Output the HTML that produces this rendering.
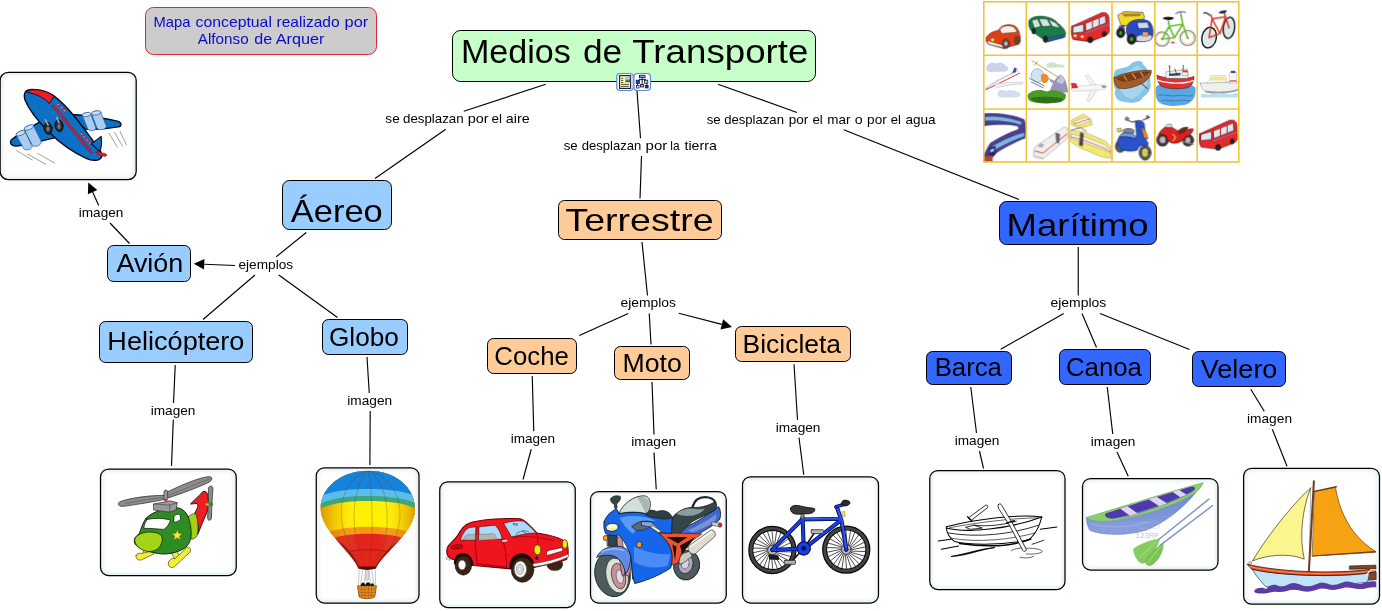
<!DOCTYPE html>
<html><head><meta charset="utf-8"><title>Medios de Transporte</title>
<style>html,body{margin:0;padding:0;background:#fff}svg{display:block}text{font-family:"Liberation Sans",sans-serif}</style></head>
<body>
<svg width="1382" height="611" viewBox="0 0 1382 611">
<defs><filter id="bl" x="-10%" y="-10%" width="120%" height="120%"><feGaussianBlur stdDeviation="1.6"/></filter></defs>
<rect width="1382" height="611" fill="#fff"/>
<g stroke="#000" stroke-width="1.15" fill="none" stroke-linecap="butt">
<line x1="545.75" y1="84.25" x2="463.75" y2="111.25"/>
<line x1="445.75" y1="129.25" x2="375" y2="178.5"/>
<line x1="637" y1="91" x2="640.5" y2="138.25"/>
<line x1="641.5" y1="156" x2="640" y2="198.5"/>
<line x1="718" y1="84.25" x2="797" y2="112.5"/>
<line x1="843.75" y1="129.75" x2="1019" y2="199.5"/>
<line x1="306.25" y1="232.5" x2="276.25" y2="256.75"/>
<line x1="235" y1="265.5" x2="204.24" y2="264.20"/>
<polygon points="193.75,263.75 204.46,259.00 204.02,269.39" fill="#000" stroke="none"/>
<line x1="255" y1="275" x2="203" y2="319.5"/>
<line x1="278.75" y1="275" x2="337.5" y2="317.5"/>
<line x1="129.5" y1="243.5" x2="110" y2="223"/>
<line x1="98.75" y1="205.5" x2="92.61" y2="192.05"/>
<polygon points="88.25,182.5 97.34,189.89 87.88,194.21" fill="#000" stroke="none"/>
<line x1="175.25" y1="365" x2="173.5" y2="403"/>
<line x1="173.3" y1="419.7" x2="171.5" y2="466"/>
<line x1="367" y1="357" x2="369.25" y2="393"/>
<line x1="370.2" y1="411" x2="369.9" y2="465"/>
<line x1="642" y1="242" x2="647.5" y2="295.5"/>
<line x1="628.25" y1="313.5" x2="579.25" y2="335.5"/>
<line x1="649.25" y1="313.5" x2="651" y2="344.5"/>
<line x1="678.75" y1="313.25" x2="721.83" y2="324.37"/>
<polygon points="732,327 720.53,329.41 723.13,319.34" fill="#000" stroke="none"/>
<line x1="532.25" y1="376" x2="533.75" y2="431.25"/>
<line x1="531.25" y1="449.25" x2="523" y2="479.5"/>
<line x1="652" y1="382" x2="654" y2="434.5"/>
<line x1="654" y1="452.5" x2="656.25" y2="489.25"/>
<line x1="794" y1="364.25" x2="797.5" y2="420"/>
<line x1="799" y1="437.5" x2="803.75" y2="474.7"/>
<line x1="1078.25" y1="247" x2="1078.25" y2="295.5"/>
<line x1="1063.75" y1="313.5" x2="1000.75" y2="349.25"/>
<line x1="1082" y1="313.5" x2="1096.5" y2="347.5"/>
<line x1="1100" y1="313.5" x2="1189.5" y2="349.5"/>
<line x1="970.75" y1="387" x2="976.5" y2="433"/>
<line x1="979.5" y1="451" x2="983.5" y2="468.5"/>
<line x1="1107.25" y1="387" x2="1112.75" y2="434"/>
<line x1="1117" y1="452" x2="1128.25" y2="476.25"/>
<line x1="1250.75" y1="389.25" x2="1264.25" y2="411.25"/>
<line x1="1272.3" y1="429.2" x2="1287" y2="466.3"/>
</g>
<rect x="145.5" y="7.5" width="231.0" height="47.0" rx="8" ry="8" fill="#cccccc" stroke="#e0282e" stroke-width="1"/>
<rect x="452.5" y="30.5" width="363.0" height="51.0" rx="8" ry="8" fill="#c6ffc8" stroke="#000" stroke-width="1"/>
<rect x="282.5" y="180.5" width="109.0" height="49.0" rx="7" ry="7" fill="#99ccff" stroke="#000" stroke-width="1"/>
<rect x="107.5" y="245.5" width="83.0" height="36.0" rx="6" ry="6" fill="#99ccff" stroke="#000" stroke-width="1"/>
<rect x="99.5" y="321.5" width="153.0" height="41.0" rx="6" ry="6" fill="#99ccff" stroke="#000" stroke-width="1"/>
<rect x="322.5" y="319.5" width="85.0" height="35.0" rx="6" ry="6" fill="#99ccff" stroke="#000" stroke-width="1"/>
<rect x="558.5" y="200.5" width="163.0" height="39.0" rx="6" ry="6" fill="#ffcc99" stroke="#000" stroke-width="1"/>
<rect x="487.5" y="338.5" width="89.0" height="35.0" rx="6" ry="6" fill="#ffcc99" stroke="#000" stroke-width="1"/>
<rect x="614.5" y="346.5" width="75.0" height="33.0" rx="6" ry="6" fill="#ffcc99" stroke="#000" stroke-width="1"/>
<rect x="735.5" y="326.5" width="115.0" height="35.0" rx="6" ry="6" fill="#ffcc99" stroke="#000" stroke-width="1"/>
<rect x="999.5" y="201.5" width="157.0" height="43.0" rx="7" ry="7" fill="#3366ff" stroke="#000" stroke-width="1"/>
<rect x="926.5" y="351.5" width="85.0" height="33.0" rx="6" ry="6" fill="#3366ff" stroke="#000" stroke-width="1"/>
<rect x="1059.5" y="349.5" width="91.0" height="35.0" rx="6" ry="6" fill="#3366ff" stroke="#000" stroke-width="1"/>
<rect x="1192.5" y="351.5" width="93.0" height="35.0" rx="6" ry="6" fill="#3366ff" stroke="#000" stroke-width="1"/>
<clipPath id="c_plane"><rect x="0.65" y="72.90" width="135.05" height="106.20" rx="7" ry="7"/></clipPath>
<rect x="0.15" y="72.40" width="136.05" height="107.20" rx="8" ry="8" fill="#e6f1f5"/>
<rect x="3.15" y="75.40" width="130.05" height="101.20" rx="5" ry="5" fill="#fff" filter="url(#bl)"/>
<g clip-path="url(#c_plane)"><g transform="translate(0,70) scale(0.18325)" stroke-linejoin="round" stroke-linecap="round">
<g stroke="#6a6a6a" stroke-width="3.5" fill="none">
<path d="M595,345 L640,420 M625,340 L668,415 M655,335 L690,408"/>
<path d="M90,440 L175,490 M150,458 L250,515 M205,455 L298,508"/>
</g>
<!-- left wing -->
<path d="M218,283 C170,310 100,350 66,378 C48,395 60,416 86,415 C150,410 240,385 305,368 Z" fill="#0c70c4" stroke="#0a0a20" stroke-width="7"/>
<!-- right wing -->
<path d="M372,243 C450,240 560,262 640,279 C666,286 666,306 645,311 C580,323 520,327 468,323 Z" fill="#0c70c4" stroke="#0a0a20" stroke-width="7"/>
<!-- fuselage -->
<path d="M140,118 C150,100 232,100 292,140 C340,175 380,220 420,270 C462,322 505,385 548,440 L556,470 C545,500 500,497 470,482 C400,450 320,392 268,340 C210,282 160,222 136,162 C130,142 133,128 140,118 Z" fill="#0c70c4" stroke="#0a0a20" stroke-width="8"/>
<!-- tail fin -->
<path d="M497,402 C520,388 540,372 552,362 C557,392 553,420 546,446 Z" fill="#0c70c4" stroke="#0a0a20" stroke-width="6"/>
<!-- red tail tip -->
<path d="M524,446 L574,456 C588,462 582,474 568,471 L534,462 Z" fill="#ee1c24" stroke="#7a0a10" stroke-width="3"/>
<!-- nose red -->
<path d="M146,114 C190,98 252,110 294,143 L270,184 C240,152 200,131 150,122 Z" fill="#ee1c24" stroke="#0a0a20" stroke-width="5"/>
<!-- red stripe -->
<path d="M283,196 L292,190 C360,270 440,370 505,450 L496,455 C430,375 350,275 283,196 Z" fill="#ee1c24" stroke="#5a1030" stroke-width="3"/>
<!-- windows -->
<g fill="#f06a8a" stroke="#c0102a" stroke-width="3">
<rect x="311" y="182" width="13" height="13" rx="3" transform="rotate(40 317 188)"/>
<rect x="329" y="198" width="13" height="13" rx="3" transform="rotate(40 335 204)"/>
<rect x="346" y="215" width="13" height="13" rx="3" transform="rotate(40 352 221)"/>
<rect x="439" y="343" width="12" height="12" rx="3" transform="rotate(45 445 349)"/>
<rect x="454" y="359" width="12" height="12" rx="3" transform="rotate(45 460 365)"/>
<rect x="469" y="376" width="12" height="12" rx="3" transform="rotate(45 475 382)"/>
<rect x="484" y="393" width="12" height="12" rx="3" transform="rotate(45 490 399)"/>
</g>
<!-- wheels -->
<g>
<ellipse cx="262" cy="318" rx="22" ry="33" fill="#2a2a2a" stroke="#000" stroke-width="4" transform="rotate(-8 262 318)"/>
<ellipse cx="322" cy="304" rx="22" ry="33" fill="#2a2a2a" stroke="#000" stroke-width="4" transform="rotate(-8 322 304)"/>
<ellipse cx="262" cy="322" rx="9" ry="14" fill="#777" />
<ellipse cx="322" cy="308" rx="9" ry="14" fill="#777" />
<path d="M248,272 L262,300 M310,260 L322,288" stroke="#9ab" stroke-width="9"/>
</g>
<!-- engines right -->
<g stroke="#2b5f9e" stroke-width="4">
<path d="M450,248 C448,232 490,228 496,242 L524,318 C518,334 488,336 480,324 Z" fill="#a9cdf0"/>
<ellipse cx="473" cy="243" rx="24" ry="11" fill="#c9e0f7" transform="rotate(-8 473 243)"/>
<path d="M500,240 C498,222 545,218 550,232 L580,305 C578,328 540,332 530,318 Z" fill="#a9cdf0"/>
<ellipse cx="525" cy="234" rx="26" ry="11" fill="#c9e0f7" transform="rotate(-8 525 234)"/>
</g>
<!-- engines left -->
<g stroke="#2b5f9e" stroke-width="4">
<path d="M132,322 C140,300 178,296 186,312 L226,392 C222,416 188,424 176,410 Z" fill="#a9cdf0"/>
<ellipse cx="158" cy="314" rx="28" ry="12" fill="#c9e0f7" transform="rotate(-22 158 314)"/>
<path d="M88,352 C94,332 132,328 140,342 L176,418 C170,438 140,442 130,430 Z" fill="#a9cdf0"/>
<ellipse cx="113" cy="345" rx="27" ry="12" fill="#c9e0f7" transform="rotate(-22 113 345)"/>
</g>
</g>
</g>
<rect x="0.15" y="72.40" width="136.05" height="107.20" rx="8" ry="8" fill="none" stroke="#000" stroke-width="1.25"/>
<clipPath id="c_heli"><rect x="101.00" y="469.50" width="134.75" height="105.50" rx="7" ry="7"/></clipPath>
<rect x="100.50" y="469.00" width="135.75" height="106.50" rx="8" ry="8" fill="#e6f1f5"/>
<rect x="103.50" y="472.00" width="129.75" height="100.50" rx="5" ry="5" fill="#fff" filter="url(#bl)"/>
<g clip-path="url(#c_heli)"><g transform="translate(98,466) scale(0.18325)" stroke-linejoin="round" stroke-linecap="round" stroke="#101810" stroke-width="5">
<!-- skids -->
<g fill="#f4ee3a" stroke="#55551a" stroke-width="4">
<path d="M255,455 L240,480 L262,486 L285,462 Z"/>
<path d="M208,488 C204,505 218,518 238,512 L305,480 L294,464 L238,478 C224,472 211,477 208,488 Z"/>
<path d="M398,468 L418,508 L444,498 L432,462 Z"/>
<path d="M384,528 C380,548 396,560 416,551 L502,470 C512,454 500,438 484,446 L420,506 C404,500 388,512 384,528 Z"/>
</g>
<!-- tail red -->
<path d="M528,258 C540,232 552,218 540,204 L505,208 C518,190 548,168 572,140 C592,134 602,150 601,172 C606,202 604,232 590,264 C575,300 558,335 545,372 C548,330 545,292 528,258 Z" fill="#ee1c24"/>
<!-- body -->
<path d="M262,285 C300,245 400,215 450,232 C490,250 505,300 510,350 C512,400 495,435 470,450 C430,475 370,485 330,478 C280,470 230,455 205,430 C190,410 200,385 225,370 C235,340 245,310 262,285 Z" fill="#2f8c22"/>
<!-- light stripe -->
<path d="M493,277 C508,262 524,257 535,262 C546,300 549,340 541,380 C532,396 516,402 508,399 C513,352 506,312 493,277 Z" fill="#a4d416" stroke-width="3"/>
<!-- nose -->
<path d="M200,398 C214,366 270,352 320,365 C352,373 356,396 346,422 C336,456 300,470 270,466 C234,460 198,436 200,398 Z" fill="#a4d416" stroke-width="4"/>
<!-- windshield -->
<path d="M268,292 C310,282 360,285 396,295 C386,320 376,336 360,346 C320,343 280,340 250,340 C252,322 258,305 268,292 Z" fill="#fff" stroke-width="4"/>
<path d="M415,276 C425,262 440,259 448,268 L451,290 C440,301 425,309 415,306 Z" fill="#fff" stroke-width="4"/>
<!-- star -->
<polygon points="432,345 440,367 463,368 445,382 451,405 432,392 413,405 419,382 401,368 424,367" fill="#f4ee3a" stroke="#55551a" stroke-width="3"/>
<!-- housing -->
<path d="M305,207 L395,190 L432,200 L426,240 L390,252 L305,240 Z" fill="#9a9a9a" stroke="#333" stroke-width="4"/>
<path d="M305,207 L392,214 L432,200 M392,214 L390,252" fill="none" stroke="#333" stroke-width="3"/>
<!-- blades -->
<path d="M362,160 C280,160 170,175 120,195 C100,206 114,223 140,220 C200,212 300,196 366,182 Z" fill="#8c8c8c" stroke="#2a2a2a" stroke-width="4"/>
<path d="M378,142 C450,105 560,60 605,58 C630,58 626,80 600,91 C540,120 450,152 384,174 Z" fill="#8c8c8c" stroke="#2a2a2a" stroke-width="4"/>
<path d="M150,205 C230,188 300,178 360,172 M390,160 C460,130 540,95 610,70" fill="none" stroke="#555" stroke-width="3"/>
<rect x="360" y="133" width="20" height="52" rx="8" fill="#9a9a9a" stroke="#333" stroke-width="4"/>
<rect x="362" y="180" width="16" height="12" fill="#d22" stroke="none"/>
<!-- tail rotor -->
<path d="M604,116 C613,104 629,109 627,126 L622,200 L619,286 C613,301 598,298 598,284 L602,200 Z" fill="#8c8c8c" stroke="#2a2a2a" stroke-width="4"/>
<path d="M580,205 L626,203 L626,216 L580,216 Z" fill="#e8c020" stroke="none"/>
<circle cx="616" cy="209" r="9" fill="#22a022" stroke="#153" stroke-width="3"/>
<rect x="580" y="204" width="10" height="12" fill="#d22" stroke="none"/>
</g>
</g>
<rect x="100.50" y="469.00" width="135.75" height="106.50" rx="8" ry="8" fill="none" stroke="#000" stroke-width="1.25"/>
<clipPath id="c_globo"><rect x="316.75" y="468.25" width="101.75" height="134.25" rx="7" ry="7"/></clipPath>
<rect x="316.25" y="467.75" width="102.75" height="135.25" rx="8" ry="8" fill="#e6f1f5"/>
<rect x="319.25" y="470.75" width="96.75" height="129.25" rx="5" ry="5" fill="#fff" filter="url(#bl)"/>
<g clip-path="url(#c_globo)"><g transform="translate(313,465) scale(0.2307)">
<defs>
<clipPath id="env"><path d="M240,25 C120,25 35,100 33,185 C32,260 110,330 150,380 C175,410 190,430 197,450 L272,450 C280,430 300,405 330,375 C375,325 445,260 442,185 C440,100 360,25 240,25 Z"/></clipPath>
<linearGradient id="envsh" x1="0" x2="1" y1="0" y2="0">
<stop offset="0" stop-color="#b04000" stop-opacity="0.55"/><stop offset="0.22" stop-color="#d06000" stop-opacity="0.18"/><stop offset="0.4" stop-color="#fff" stop-opacity="0"/><stop offset="0.62" stop-color="#fff" stop-opacity="0"/><stop offset="0.82" stop-color="#d06000" stop-opacity="0.2"/><stop offset="1" stop-color="#b04000" stop-opacity="0.55"/>
</linearGradient>
</defs>
<g clip-path="url(#env)">
<rect x="20" y="10" width="440" height="450" fill="#e3251c"/>
<path d="M20,10 H460 V345 C400,308 320,298 240,298 C160,298 80,308 20,345 Z" fill="#f49a12"/>
<path d="M20,10 H460 V308 C400,278 320,268 240,268 C160,268 80,278 20,308 Z" fill="#fff000"/>
<rect x="20" y="10" width="440" height="450" fill="url(#envsh)"/>
<path d="M20,10 H460 V194 C400,164 320,156 240,156 C160,156 80,164 20,194 Z" fill="#3fa57c"/>
<path d="M20,10 H460 V172 C400,142 320,134 240,134 C160,134 80,142 20,172 Z" fill="#5bbdec"/>
<path d="M20,10 H460 V140 C400,112 320,104 240,104 C160,104 80,112 20,140 Z" fill="#1583dc"/>
<path d="M85,318 C150,345 185,400 205,450 L150,450 L50,320 Z" fill="#8e1a14" opacity="0.9"/>
<path d="M395,318 C335,345 290,400 266,450 L330,450 L430,320 Z" fill="#8e1a14" opacity="0.9"/>
<path d="M165,375 C200,365 280,365 318,375" stroke="#a01c14" stroke-width="4" fill="none"/>
<g fill="none" stroke="#7a3a00" stroke-opacity="0.45" stroke-width="3">
<path d="M240,25 C130,60 90,200 150,330 C175,385 200,420 215,450"/>
<path d="M240,25 C190,60 160,200 190,330 C205,385 220,420 228,450"/>
<path d="M240,25 C250,60 260,200 255,330 C250,385 245,420 240,450"/>
<path d="M240,25 C310,60 340,200 310,330 C295,385 265,420 252,450"/>
<path d="M240,25 C370,60 410,200 350,330 C320,385 280,420 262,450"/>
</g>
</g>
<path d="M197,448 C215,458 255,458 272,448 L270,440 L199,440 Z" fill="#5a0c0c"/>
<g stroke="#9a9a9a" stroke-width="2.5" fill="none">
<path d="M200,455 L197,528 M270,455 L272,528 M215,458 L205,528 M255,458 L265,528 M228,458 L222,520 M243,458 L250,520"/>
</g>
<path d="M228,458 L242,458 L240,500 L230,500 Z" fill="#ddd" stroke="#999" stroke-width="2"/>
<path d="M205,527 C210,505 222,505 226,520 C232,505 246,505 250,520 C254,508 264,510 266,527 Z" fill="#111"/>
<path d="M193,524 L275,524 L268,572 C250,582 218,582 200,572 Z" fill="#e58e22" stroke="#6a3806" stroke-width="3"/>
<path d="M196,538 H272 M198,552 H270 M200,565 H268 M210,526 L213,575 M225,526 L226,578 M240,526 L240,578 M255,526 L253,576" stroke="#8a4a0a" stroke-width="2" fill="none"/>
</g>
</g>
<rect x="316.25" y="467.75" width="102.75" height="135.25" rx="8" ry="8" fill="none" stroke="#000" stroke-width="1.25"/>
<clipPath id="c_coche"><rect x="440.25" y="482.25" width="134.50" height="124.75" rx="7" ry="7"/></clipPath>
<rect x="439.75" y="481.75" width="135.50" height="125.75" rx="8" ry="8" fill="#e6f1f5"/>
<rect x="442.75" y="484.75" width="129.50" height="119.75" rx="5" ry="5" fill="#fff" filter="url(#bl)"/>
<g clip-path="url(#c_coche)"><g transform="translate(437,479) scale(0.21604)" stroke-linejoin="round" stroke-linecap="round">
<!-- far wheels -->
<ellipse cx="545" cy="395" rx="38" ry="30" fill="#3a2412"/>
<!-- body -->
<path d="M48,318 C55,300 80,285 95,262 C110,235 125,210 160,200 C220,186 320,180 385,184 C410,190 440,225 462,250 C500,255 560,268 598,290 C606,305 608,335 606,352 L600,372 C560,385 500,398 450,410 L330,415 L170,400 L60,368 C45,355 43,335 48,318 Z" fill="#f0141e" stroke="#6a0008" stroke-width="5"/>
<!-- wheel arches -->
<path d="M78,395 C75,350 110,335 135,345 C160,355 170,385 168,402 Z" fill="#1a0a05"/>
<path d="M335,418 C330,365 365,340 400,345 C440,352 455,390 452,412 Z" fill="#1a0a05"/>
<!-- wheels -->
<ellipse cx="122" cy="400" rx="38" ry="45" fill="#3a2412" stroke="#1a0a05" stroke-width="3"/>
<ellipse cx="116" cy="398" rx="17" ry="22" fill="#fff" stroke="#777" stroke-width="3"/>
<ellipse cx="396" cy="420" rx="52" ry="58" fill="#3a2412" stroke="#1a0a05" stroke-width="3"/>
<ellipse cx="386" cy="418" rx="29" ry="38" fill="#fff" stroke="#666" stroke-width="4"/>
<ellipse cx="384" cy="418" rx="17" ry="24" fill="#ddd" stroke="#888" stroke-width="3"/>
<ellipse cx="383" cy="418" rx="7" ry="10" fill="#fff" stroke="#999" stroke-width="2"/>
<!-- windows -->
<path d="M108,282 C118,252 134,232 150,225 L181,221 L181,281 Z" fill="#a9dafa" stroke="#6a0008" stroke-width="3"/>
<path d="M195,221 L270,214 C286,230 297,255 302,278 L195,283 Z" fill="#a9dafa" stroke="#6a0008" stroke-width="3"/>
<path d="M308,205 C340,195 380,191 402,196 C422,210 446,235 459,250 C420,250 380,258 345,269 C335,250 320,225 308,205 Z" fill="#a9dafa" stroke="#6a0008" stroke-width="3"/>
<path d="M122,280 C126,266 134,260 142,258 L181,257 L181,281 Z" fill="#b4b4b4" stroke="#666" stroke-width="2"/>
<path d="M195,257 L262,253 C270,256 274,266 275,279 L195,283 Z" fill="#b4b4b4" stroke="#666" stroke-width="2"/>
<path d="M365,255 C385,240 405,235 425,245 M395,240 L415,252 M355,205 L372,208 L372,214 L355,212 Z" fill="none" stroke="#444" stroke-width="3"/>
<!-- door lines -->
<path d="M181,221 L176,300 L186,392 M302,278 C318,320 322,370 322,408 M186,392 L322,408 M176,300 L181,295" fill="none" stroke="#6a0008" stroke-width="3"/>
<path d="M300,283 L325,280 L326,290 L302,292 Z" fill="#fff" stroke="#6a0008" stroke-width="2"/>
<path d="M345,270 C400,262 470,268 540,285 M462,250 L470,330" fill="none" stroke="#6a0008" stroke-width="2.5"/>
<!-- rear light -->
<path d="M66,312 C68,304 110,302 118,306 C120,315 116,322 110,322 L72,324 Z" fill="#c00814" stroke="#6a0008" stroke-width="3"/>
<path d="M44,362 L58,366 L58,376 L44,372 Z" fill="#fff" stroke="#555" stroke-width="2"/>
<!-- grille & bumper -->
<path d="M506,345 C505,335 512,332 520,330 L575,318 C584,318 584,330 578,334 L518,352 C510,354 506,352 506,345 Z" fill="#fff" stroke="#6a0008" stroke-width="3"/>
<path d="M444,392 C500,386 560,368 608,348 L610,360 C560,384 500,400 448,406 Z" fill="#fff" stroke="#555" stroke-width="3"/>
<ellipse cx="465" cy="328" rx="16" ry="23" fill="#f2e616" stroke="#5a4a00" stroke-width="4"/>
<ellipse cx="592" cy="301" rx="12" ry="20" fill="#f2e616" stroke="#5a4a00" stroke-width="4"/>
<ellipse cx="462" cy="366" rx="7" ry="9" fill="#1a0a05"/>
</g>
</g>
<rect x="439.75" y="481.75" width="135.50" height="125.75" rx="8" ry="8" fill="none" stroke="#000" stroke-width="1.25"/>
<clipPath id="c_moto"><rect x="591.00" y="492.00" width="134.75" height="110.50" rx="7" ry="7"/></clipPath>
<rect x="590.50" y="491.50" width="135.75" height="111.50" rx="8" ry="8" fill="#e6f1f5"/>
<rect x="593.50" y="494.50" width="129.75" height="105.50" rx="5" ry="5" fill="#fff" filter="url(#bl)"/>
<g clip-path="url(#c_moto)"><g transform="translate(588,489) scale(0.19152)" stroke-linejoin="round" stroke-linecap="round" stroke="#0c1418" stroke-width="4">
<!-- rear wheel -->
<ellipse cx="515" cy="398" rx="68" ry="78" fill="#4c5c5e" transform="rotate(12 515 398)"/>
<ellipse cx="510" cy="392" rx="38" ry="50" fill="#b3a6c6" stroke-width="3" transform="rotate(12 510 392)"/>
<ellipse cx="508" cy="390" rx="20" ry="28" fill="#d8d4dc" stroke-width="2" transform="rotate(12 508 390)"/>
<!-- tail fairing -->
<path d="M470,215 C540,190 620,140 682,92 C694,110 696,140 686,162 C650,195 600,225 560,240 L470,245 Z" fill="#4068cc"/>
<path d="M520,215 C570,195 630,160 670,130 C672,150 665,165 655,175 C620,198 580,215 545,226 Z" fill="#7a90d0" stroke="none"/>
<!-- seat -->
<path d="M438,150 C470,110 520,92 560,96 C600,98 640,80 664,66 C676,80 674,100 660,112 C620,135 580,150 545,170 C520,190 500,215 470,240 L432,232 Z" fill="#34464a"/>
<path d="M462,128 C490,104 530,98 560,104 C580,108 600,104 610,100 C600,120 570,135 540,140 C510,142 485,140 462,128 Z" fill="#8c9c9c" stroke="none"/>
<!-- grab rail -->
<path d="M545,95 C555,60 580,42 610,42 C640,42 660,55 664,70" fill="none" stroke="#1c2a2c" stroke-width="12"/>
<!-- tail light -->
<path d="M648,172 L690,178 L688,198 L648,190 Z" fill="#c8c8c8" stroke-width="2"/>
<ellipse cx="690" cy="188" rx="9" ry="12" fill="#e02424" stroke-width="2"/>
<!-- exhaust -->
<path d="M478,392 C470,370 480,345 500,335 L530,325 L545,350 L500,385 Z" fill="#c8c8b8" stroke-width="3"/>
<path d="M522,300 L640,215 C660,212 670,232 662,248 L560,338 C540,345 518,325 522,300 Z" fill="#dcdccc" stroke-width="3"/>
<path d="M535,300 L645,222" stroke="#fff" stroke-width="8" fill="none" stroke-opacity="0.8"/>
<!-- red frame -->
<path d="M366,228 L595,234 C560,262 520,285 500,300 C488,335 478,365 470,385 L428,402 C452,335 432,282 366,228 Z" fill="#f0522e" stroke="#3a0c04" stroke-width="3"/>
<path d="M410,250 L520,250 L470,285 Z M440,290 L462,300 L455,372 Z M480,296 L560,250 L492,340 Z" fill="#1a0e0c" stroke="none"/>
<!-- front wheel -->
<ellipse cx="128" cy="445" rx="92" ry="118" fill="#4c5c5e" transform="rotate(-12 128 445)"/>
<ellipse cx="152" cy="452" rx="58" ry="92" fill="#dce0d6" stroke-width="3" transform="rotate(-12 152 452)"/>
<ellipse cx="160" cy="455" rx="36" ry="68" fill="#c8929c" stroke-width="3" transform="rotate(-12 160 455)"/>
<ellipse cx="166" cy="458" rx="18" ry="36" fill="#e6d8dc" stroke-width="2" transform="rotate(-12 166 458)"/>
<!-- engine dark -->
<path d="M225,330 L300,350 L285,440 L235,470 Z" fill="#26343a"/>
<!-- forks -->
<path d="M148,250 L176,250 L205,440 L180,450 Z" fill="#c4949c" stroke-width="3"/>
<path d="M100,240 L152,244 L152,304 L102,298 Z" fill="#34424a" stroke-width="3"/>
<path d="M210,335 L238,345 L215,455 L192,450 Z" fill="#c4949c" stroke-width="3"/>
<!-- front fender -->
<path d="M46,356 C62,316 112,292 168,300 C204,306 222,330 224,356 C222,394 210,426 196,446 C190,404 172,368 140,352 C108,340 74,346 46,356 Z" fill="#5f8ae6"/>
<path d="M70,330 C100,312 150,308 185,320" stroke="#9ab8f4" stroke-width="8" fill="none"/>
<!-- main fairing -->
<path d="M84,172 C95,140 120,115 150,105 L165,130 C210,118 260,118 300,128 C340,120 400,125 440,150 L436,232 L366,228 C432,282 452,335 432,412 C388,444 308,478 244,494 C225,440 232,390 222,345 C212,315 190,270 162,240 C135,246 108,242 92,232 C84,215 80,195 84,172 Z" fill="#1666ec"/>
<path d="M165,150 C220,135 300,140 350,165 C300,175 260,200 235,235 C215,220 185,190 165,150 Z" fill="#5a9af8" stroke="none"/>
<path d="M240,300 C300,330 380,345 430,340 C425,370 420,390 415,400 C350,420 290,410 240,380 Z" fill="#4a8cf6" stroke="none"/>
<path d="M230,195 C260,165 310,160 340,175 C330,200 300,215 270,218 C250,218 236,210 230,195 Z" fill="#56687a" stroke-width="3"/>
<!-- handlebar/dark -->
<path d="M290,125 C310,105 340,108 360,118 C390,105 430,115 440,150 C410,160 380,158 355,150 C330,150 305,142 290,125 Z" fill="#2e3e40" stroke-width="3"/>
<path d="M280,170 L330,172 L378,215 L366,228 L325,198 L282,190 Z" fill="#88a4dc" stroke-width="3"/>
<path d="M335,190 L380,218 L372,230 L330,202 Z" fill="#e8e8e0" stroke-width="2"/>
<!-- windshield -->
<path d="M162,128 C178,80 240,30 300,36 C325,45 332,80 320,110 C315,120 308,126 300,128 C260,118 210,118 162,128 Z" fill="#d2ded8"/>
<path d="M255,45 C285,35 315,45 322,75 C322,100 315,118 300,126 C290,100 275,70 255,45 Z" fill="#a8b8b0" stroke="none"/>
<!-- mirror -->
<path d="M118,52 C125,35 155,30 170,40 C172,55 160,70 150,76 L152,100 L140,102 L136,78 C124,74 116,65 118,52 Z" fill="#34464a" stroke-width="3"/>
<!-- headlight -->
<ellipse cx="126" cy="200" rx="33" ry="21" fill="#f2ecb0" stroke-width="4" transform="rotate(-5 126 200)"/>
<ellipse cx="126" cy="194" rx="22" ry="9" fill="#fffef0" stroke="none"/>
<ellipse cx="92" cy="256" rx="12" ry="14" fill="#f2a222" stroke-width="3"/>
<ellipse cx="268" cy="290" rx="14" ry="15" fill="#f2a222" stroke-width="3"/>
</g>
</g>
<rect x="590.50" y="491.50" width="135.75" height="111.50" rx="8" ry="8" fill="none" stroke="#000" stroke-width="1.25"/>
<clipPath id="c_bici"><rect x="743.00" y="477.25" width="135.00" height="125.25" rx="7" ry="7"/></clipPath>
<rect x="742.50" y="476.75" width="136.00" height="126.25" rx="8" ry="8" fill="#e6f1f5"/>
<rect x="745.50" y="479.75" width="130.00" height="120.25" rx="5" ry="5" fill="#fff" filter="url(#bl)"/>
<g clip-path="url(#c_bici)"><g transform="translate(740,474) scale(0.21593)" stroke-linejoin="round" stroke-linecap="round">
<circle cx="150" cy="352" r="98" fill="#fff" stroke="none"/>
<path d="M159.9,358.8 L241.5,361.2 M158.0,360.9 L236.7,382.8 M155.6,362.6 L226.8,402.7 M152.9,363.6 L212.4,419.6 M150.0,364.0 L194.4,432.6 M147.2,363.7 L173.9,440.8 M144.5,362.6 L151.9,444.0 M142.1,361.0 L129.8,441.8 M140.2,358.9 L109.0,434.3 M138.8,356.3 L90.4,422.1 M138.1,353.5 L75.4,405.8 M138.1,350.6 L64.7,386.4 M138.8,347.8 L58.9,365.0 M140.1,345.2 L58.5,342.8 M142.0,343.1 L63.3,321.2 M144.4,341.4 L73.2,301.3 M147.1,340.4 L87.6,284.4 M150.0,340.0 L105.6,271.4 M152.8,340.3 L126.1,263.2 M155.5,341.4 L148.1,260.0 M157.9,343.0 L170.2,262.2 M159.8,345.1 L191.0,269.7 M161.2,347.7 L209.6,281.9 M161.9,350.5 L224.6,298.2 M161.9,353.4 L235.3,317.6 M161.2,356.2 L241.1,339.0" stroke="#111" stroke-width="3.4" fill="none"/>
<circle cx="150" cy="352" r="100" fill="none" stroke="#444" stroke-width="17"/>
<circle cx="150" cy="352" r="109" fill="none" stroke="#0a0a0a" stroke-width="6"/>
<circle cx="150" cy="352" r="91" fill="none" stroke="#0a0a0a" stroke-width="5"/>
<circle cx="150" cy="352" r="22" fill="#b8b8b8" stroke="#333" stroke-width="4"/>
<circle cx="150" cy="352" r="9" fill="#777" stroke="#222" stroke-width="3"/>
<circle cx="492" cy="350" r="98" fill="#fff" stroke="none"/>
<path d="M501.9,356.8 L583.5,359.2 M500.0,358.9 L578.7,380.8 M497.6,360.6 L568.8,400.7 M494.9,361.6 L554.4,417.6 M492.0,362.0 L536.4,430.6 M489.2,361.7 L515.9,438.8 M486.5,360.6 L493.9,442.0 M484.1,359.0 L471.8,439.8 M482.2,356.9 L451.0,432.3 M480.8,354.3 L432.4,420.1 M480.1,351.5 L417.4,403.8 M480.1,348.6 L406.7,384.4 M480.8,345.8 L400.9,363.0 M482.1,343.2 L400.5,340.8 M484.0,341.1 L405.3,319.2 M486.4,339.4 L415.2,299.3 M489.1,338.4 L429.6,282.4 M492.0,338.0 L447.6,269.4 M494.8,338.3 L468.1,261.2 M497.5,339.4 L490.1,258.0 M499.9,341.0 L512.2,260.2 M501.8,343.1 L533.0,267.7 M503.2,345.7 L551.6,279.9 M503.9,348.5 L566.6,296.2 M503.9,351.4 L577.3,315.6 M503.2,354.2 L583.1,337.0" stroke="#111" stroke-width="3.4" fill="none"/>
<circle cx="492" cy="350" r="100" fill="none" stroke="#444" stroke-width="17"/>
<circle cx="492" cy="350" r="109" fill="none" stroke="#0a0a0a" stroke-width="6"/>
<circle cx="492" cy="350" r="91" fill="none" stroke="#0a0a0a" stroke-width="5"/>
<circle cx="492" cy="350" r="22" fill="#b8b8b8" stroke="#333" stroke-width="4"/>
<circle cx="492" cy="350" r="9" fill="#777" stroke="#222" stroke-width="3"/>
<!-- derailleur -->
<path d="M132,372 L178,378 L182,398 L135,396 Z" fill="#1a1a1a"/>
<!-- crank arms -->
<path d="M295,345 L345,272 M295,345 L238,406" stroke="#111" stroke-width="7" fill="none"/>
<!-- frame outline -->
<g fill="none" stroke="#060c50" stroke-width="19">
<path d="M285,213 L150,350 M295,345 L150,352 M290,200 L295,345 M285,211 L462,207 M462,218 L300,343 M448,152 L470,215 L492,350"/>
</g>
<g fill="none" stroke="#1a3edc" stroke-width="12">
<path d="M285,213 L150,350 M295,345 L150,352 M290,200 L295,345 M285,211 L462,207 M462,218 L300,343 M448,152 L470,215 L492,350"/>
</g>
<g fill="none" stroke="#5a7cf4" stroke-width="3"><path d="M290,208 L458,204 M452,160 L472,214 L492,340"/></g>
<!-- chainring -->
<circle cx="295" cy="345" r="31" fill="#1a3edc" stroke="#060c50" stroke-width="5"/>
<circle cx="295" cy="345" r="11" fill="#060c50"/>
<!-- pedals -->
<rect x="330" y="258" width="56" height="18" rx="3" fill="#b4b4b4" stroke="#333" stroke-width="4"/>
<rect x="205" y="400" width="52" height="18" rx="3" fill="#b4b4b4" stroke="#333" stroke-width="4"/>
<!-- seat -->
<rect x="284" y="178" width="12" height="30" fill="#999" stroke="#222" stroke-width="3"/>
<path d="M234,160 C236,146 258,142 280,148 C305,156 330,156 345,160 C350,172 338,182 318,184 L262,186 C244,184 232,174 234,160 Z" fill="#3a3a3a" stroke="#0a0a0a" stroke-width="4"/>
<!-- handlebar -->
<path d="M444,152 L482,140" stroke="#060c50" stroke-width="16" fill="none"/>
<path d="M444,152 L482,140" stroke="#1a3edc" stroke-width="9" fill="none"/>
<path d="M470,140 C468,125 480,118 495,122 C510,124 514,136 504,142 C494,150 478,152 470,140 Z" fill="#2a2a2a" stroke="#000" stroke-width="3"/>
<path d="M474,175 L484,172 L488,196 L478,198 Z" fill="#f0e040" stroke="#8a7a10" stroke-width="2"/>
</g></g>
<rect x="742.50" y="476.75" width="136.00" height="126.25" rx="8" ry="8" fill="none" stroke="#000" stroke-width="1.25"/>
<clipPath id="c_barca"><rect x="930.25" y="471.00" width="134.25" height="118.00" rx="7" ry="7"/></clipPath>
<rect x="929.75" y="470.50" width="135.25" height="119.00" rx="8" ry="8" fill="#e6f1f5"/>
<rect x="932.75" y="473.50" width="129.25" height="113.00" rx="5" ry="5" fill="#fff" filter="url(#bl)"/>
<g clip-path="url(#c_barca)"><g transform="translate(927,468) scale(0.2029)" stroke-linejoin="round" stroke-linecap="round" fill="none" stroke="#000" stroke-width="5">
<!-- water -->
<path d="M55,360 L118,351" stroke-width="5"/>
<path d="M70,400 L156,385" stroke-width="5"/>
<path d="M120,436 C200,432 260,402 335,392 C260,398 200,422 120,436 Z" fill="#000" stroke-width="4"/>
<path d="M558,302 L640,291" stroke-width="5"/>
<path d="M518,376 L576,356" stroke-width="4"/>
<path d="M415,408 C430,395 470,392 500,396 M505,395 C540,396 570,404 568,412 C560,422 520,426 490,424" stroke-width="3"/>
<path d="M458,440 C480,446 510,444 525,436" stroke-width="3"/>
<!-- hull -->
<path d="M95,296 C98,320 115,348 135,362 C220,382 400,380 505,352 C535,325 555,285 566,241 C450,228 250,250 95,290 Z" fill="#fff" stroke-width="5"/>
<path d="M160,372 C300,392 420,386 512,350" stroke-width="7"/>
<path d="M95,296 C200,322 400,302 566,241" stroke-width="5"/>
<path d="M112,294 C230,272 420,246 545,246" stroke-width="3"/>
<path d="M104,320 C250,346 420,326 549,282" stroke-width="4"/>
<path d="M120,346 C250,370 420,352 532,320" stroke-width="3"/>
<!-- seat -->
<path d="M192,292 L232,282 L272,296 L215,302 Z" fill="#fff" stroke-width="4"/>
<path d="M232,282 C300,290 380,280 440,262" stroke-width="4"/>
<!-- oar 1 -->
<path d="M204,246 L288,184 C296,180 304,188 298,196 L218,258 Z" fill="#fff" stroke-width="4"/>
<path d="M200,240 L222,262" stroke-width="6"/>
<!-- oar 2 -->
<path d="M352,180 C358,172 368,178 372,190 L420,270 L490,402 C488,412 476,414 472,406 L404,278 L356,205 C350,195 348,186 352,180 Z" fill="#fff" stroke-width="4"/>
<path d="M392,272 L430,260" stroke-width="7"/>
</g>
</g>
<rect x="929.75" y="470.50" width="135.25" height="119.00" rx="8" ry="8" fill="none" stroke="#000" stroke-width="1.25"/>
<clipPath id="c_canoa"><rect x="1083.00" y="479.00" width="134.50" height="90.50" rx="7" ry="7"/></clipPath>
<rect x="1082.50" y="478.50" width="135.50" height="91.50" rx="8" ry="8" fill="#e6f1f5"/>
<rect x="1085.50" y="481.50" width="129.50" height="85.50" rx="5" ry="5" fill="#fff" filter="url(#bl)"/>
<g clip-path="url(#c_canoa)"><g transform="translate(1080,476) scale(0.15873)" stroke-linejoin="round" stroke-linecap="round">
<defs><linearGradient id="hullg" x1="0" x2="0" y1="0" y2="1"><stop offset="0" stop-color="#6a82cf"/><stop offset="1" stop-color="#8aa0de"/></linearGradient></defs>
<!-- hull -->
<path d="M40,262 C42,300 50,332 66,345 C150,375 300,378 420,340 C520,300 620,225 690,150 C725,112 755,76 776,44 C600,90 250,200 40,262 Z" fill="url(#hullg)" stroke="#5570c0" stroke-width="3"/>
<path d="M70,300 C160,330 320,325 430,290" stroke="#9fb6ea" stroke-width="10" fill="none" stroke-opacity="0.6"/>
<!-- green rim -->
<path d="M40,262 C250,196 600,86 776,42 C770,60 755,80 735,100 C640,170 420,250 200,282 C130,290 70,285 40,262 Z" fill="#8ed068" stroke="#6ab048" stroke-width="2"/>
<!-- interior -->
<path d="M160,236 C300,190 560,106 700,68 C720,66 730,74 722,86 C640,140 420,222 215,268 C175,272 150,255 160,236 Z" fill="#4e38ae"/>
<path d="M215,268 C420,222 640,140 722,86 C700,120 500,200 300,256 Z" fill="#6a54c6" opacity="0.7"/>
<!-- seats -->
<path d="M252,205 L300,190 L362,236 L315,250 Z" fill="#dcd4f2"/>
<path d="M432,146 L482,130 L548,172 L500,190 Z" fill="#dcd4f2"/>
<path d="M582,100 L625,88 L672,118 L632,134 Z" fill="#dcd4f2"/>
<!-- watermark -->
<text x="350" y="388" font-size="50" fill="#b8b8b8" fill-opacity="0.8" font-family="Liberation Sans, sans-serif">123RF</text>
<rect x="360" y="290" width="140" height="40" rx="14" fill="none" stroke="#c0c0c0" stroke-opacity="0.5" stroke-width="5"/>
<!-- paddles -->
<path d="M812,146 L468,422" stroke="#7f92cc" stroke-width="9" fill="none"/>
<path d="M836,186 L500,440" stroke="#7f92cc" stroke-width="9" fill="none"/>
<path d="M500,398 C455,398 385,425 338,458 C335,480 350,520 378,545 C395,556 410,548 425,530 C460,490 490,445 500,398 Z" fill="#86cc60" stroke="#6ab048" stroke-width="2"/>
<path d="M524,426 C495,440 450,480 415,525 C405,545 418,566 440,566 C470,556 500,520 515,480 C522,460 526,440 524,426 Z" fill="#7cc256" stroke="#62a842" stroke-width="2"/>
<path d="M480,415 L380,510 M510,440 L430,545" stroke="#a8e088" stroke-width="6" fill="none"/>
</g>
</g>
<rect x="1082.50" y="478.50" width="135.50" height="91.50" rx="8" ry="8" fill="none" stroke="#000" stroke-width="1.25"/>
<clipPath id="c_velero"><rect x="1244.10" y="468.80" width="134.90" height="134.90" rx="7" ry="7"/></clipPath>
<rect x="1243.60" y="468.30" width="135.90" height="135.90" rx="8" ry="8" fill="#e6f1f5"/>
<rect x="1246.60" y="471.30" width="129.90" height="129.90" rx="5" ry="5" fill="#fff" filter="url(#bl)"/>
<g clip-path="url(#c_velero)"><g transform="translate(1241,467) scale(0.22927)" stroke-linejoin="round" stroke-linecap="round">
<!-- hull blue -->
<path d="M48,445 C150,470 400,486 562,462 L552,502 C400,522 200,526 108,522 C85,498 62,470 48,445 Z" fill="#bfe4fa" stroke="#334" stroke-width="3"/>
<!-- hull red -->
<path d="M28,424 C150,456 400,470 588,444 L586,458 C400,486 150,472 48,446 Z" fill="#ea4c1c" stroke="#3a1408" stroke-width="3.5"/>
<path d="M40,435 C160,464 400,478 586,452" fill="none" stroke="#f6b090" stroke-width="3"/>
<!-- stern brown -->
<path d="M474,432 L588,428 L588,444 L474,446 Z" fill="#7a4826" stroke="#2a1408" stroke-width="3"/>
<path d="M562,462 L590,458 L590,492 L556,494 Z" fill="#7a4826" stroke="#2a1408" stroke-width="2"/>
<path d="M548,470 L566,448 L590,448" fill="none" stroke="#fff" stroke-width="5"/>
<!-- waves -->
<path d="M58,540 C70,522 95,526 110,532 C125,512 150,508 165,520 C185,525 200,515 215,508 C240,500 260,515 280,520 C300,528 320,512 345,505 C370,500 385,518 410,515 C430,512 445,498 470,500 C495,502 510,515 530,508 C550,500 570,495 590,500 L590,525 C560,520 540,535 510,532 C480,530 470,522 445,528 C420,535 400,540 375,532 C350,525 330,535 305,542 C280,548 255,535 230,535 C205,535 190,548 160,545 C135,543 120,550 95,552 C75,553 55,550 58,540 Z" fill="#5b3ca4"/>
<!-- sails -->
<path d="M304,92 C250,135 120,290 50,410 C100,388 200,370 276,402 C252,300 270,172 304,92 Z" fill="#fbf58e" stroke="#3a3210" stroke-width="3"/>
<path d="M322,106 L412,88 C430,200 482,302 586,368 L586,372 L312,388 Z" fill="#f6a212" stroke="#6a3a10" stroke-width="3"/>
<!-- spars -->
<path d="M320,106 L416,86" stroke="#6e3e20" stroke-width="6" fill="none"/>
<path d="M312,388 L586,369" stroke="#6e3e20" stroke-width="5" fill="none"/>
<path d="M318,62 L296,455" stroke="#6e3e20" stroke-width="9" fill="none"/>
<path d="M304,92 L298,400" stroke="#555" stroke-width="2" fill="none"/>
<circle cx="40" cy="418" r="6" fill="#fff" stroke="#333" stroke-width="2"/>
</g>
</g>
<rect x="1243.60" y="468.30" width="135.90" height="135.90" rx="8" ry="8" fill="none" stroke="#000" stroke-width="1.25"/>
<g id="grid">
<defs><filter id="gb" x="-5%" y="-5%" width="110%" height="110%"><feGaussianBlur stdDeviation="1.6"/></filter></defs>
<rect x="983" y="1" width="256.3" height="161.4" fill="#fff"/>
<!-- ROW 1 -->
<g transform="translate(981,0) scale(0.18815)" stroke-linejoin="round" stroke-linecap="round" filter="url(#gb)">
<!-- 1 small red car -->
<g stroke="#5a2a10" stroke-width="3">
<path d="M28,200 C40,175 70,165 95,160 C100,140 130,128 160,132 C190,135 200,160 205,180 C212,200 210,225 200,235 L120,258 L40,235 C28,225 24,212 28,200 Z" fill="#e23c18"/>
<path d="M100,158 C105,142 130,134 158,138 C178,142 188,158 190,172 L110,178 Z" fill="#f4f0e8"/>
<path d="M30,215 L118,240 L122,256 L40,236 Z" fill="#f0ece0"/>
<ellipse cx="132" cy="232" rx="20" ry="26" fill="#5a4a40"/><ellipse cx="132" cy="232" rx="9" ry="12" fill="#c8c0b8" stroke="none"/>
<ellipse cx="192" cy="215" rx="14" ry="22" fill="#5a4a40"/>
<ellipse cx="62" cy="212" rx="12" ry="9" fill="#f8e860" stroke-width="2"/>
</g>
<!-- 2 green van -->
<g stroke="#0c3a20" stroke-width="3">
<path d="M255,110 C265,90 300,82 340,88 C370,92 395,105 410,125 C430,140 448,158 450,180 L440,200 L350,222 L268,165 C255,150 250,128 255,110 Z" fill="#1f7c4a"/>
<path d="M270,108 L300,100 L318,140 L285,150 Z M308,100 L350,100 L372,138 L328,142 Z" fill="#cfe6e0"/>
<path d="M358,102 L398,122 L420,150 L380,140 Z" fill="#d8ece8"/>
<path d="M345,200 L445,182 L448,196 L355,222 Z" fill="#2a5a9a" stroke-width="2"/>
<ellipse cx="342" cy="208" rx="12" ry="18" fill="#222"/><ellipse cx="280" cy="165" rx="10" ry="16" fill="#222"/>
</g>
<!-- 3 red bus -->
<g id="bus" stroke="#4a0a0a" stroke-width="3">
<path d="M482,140 L640,68 C665,62 678,75 680,95 L682,165 C680,180 670,185 660,190 L580,222 L490,210 C480,200 478,170 482,140 Z" fill="#e42a2a"/>
<path d="M490,142 L545,128 L545,170 L488,176 Z" fill="#d6ecf6"/>
<path d="M556,124 L660,82 L664,122 L558,165 Z" fill="#d6ecf6"/>
<path d="M592,110 L592,152 M628,95 L628,138" stroke="#e42a2a" stroke-width="6"/>
<path d="M556,176 L676,132" stroke="#7080c0" stroke-width="5" fill="none"/>
<ellipse cx="580" cy="212" rx="14" ry="16" fill="#222"/><ellipse cx="655" cy="180" rx="11" ry="14" fill="#222"/>
<ellipse cx="500" cy="190" rx="9" ry="7" fill="#fce880" stroke="none"/><ellipse cx="538" cy="195" rx="9" ry="7" fill="#fce880" stroke="none"/>
</g>
<!-- 4 dump truck -->
<g stroke="#1a1a3a" stroke-width="3">
<path d="M728,80 L760,62 L860,66 L868,90 L850,140 L745,135 Z" fill="#f2dc24"/>
<path d="M750,72 L850,72 L845,86 L760,88 Z" fill="#b07a30" stroke="none"/>
<path d="M735,140 L760,135 L760,180 L735,175 Z" fill="#8a3ca0"/>
<path d="M790,120 C810,100 870,98 895,115 C915,135 918,170 912,195 C900,215 850,225 810,220 C780,210 770,180 772,150 C775,135 780,128 790,120 Z" fill="#2a4cc4"/>
<path d="M830,120 L885,118 L895,150 L838,152 Z" fill="#c8dcee"/>
<path d="M825,195 C850,180 890,180 910,190 L905,210 C880,225 840,225 820,215 Z" fill="#d8d8d8"/>
<rect x="858" y="170" width="30" height="22" fill="#f0a868" stroke-width="2"/>
<ellipse cx="742" cy="175" rx="22" ry="26" fill="#1c2a1c"/><ellipse cx="742" cy="175" rx="8" ry="10" fill="#4aa040" stroke="none"/>
<ellipse cx="800" cy="208" rx="24" ry="28" fill="#1c2a1c"/><ellipse cx="800" cy="208" rx="9" ry="11" fill="#4aa040" stroke="none"/>
</g>
<!-- 5 green bike -->
<g fill="none">
<circle cx="962" cy="208" r="38" stroke="#8a8a80" stroke-width="7"/><circle cx="962" cy="208" r="30" stroke="#e0d8c8" stroke-width="5"/>
<circle cx="1098" cy="202" r="40" stroke="#8a8a80" stroke-width="7"/><circle cx="1098" cy="202" r="32" stroke="#e0d8c8" stroke-width="5"/>
<circle cx="962" cy="208" r="7" fill="#e8a040"/><circle cx="1098" cy="202" r="7" fill="#e8a040"/>
<path d="M962,208 L1000,140 L1072,128 L1098,202 M1000,140 L1028,200 L1072,128 M962,208 L1028,200 M1072,128 L1064,85 M995,112 L1002,142" stroke="#6cc030" stroke-width="9"/>
<path d="M1035,72 C1050,62 1075,60 1085,66 M1064,85 L1060,68" stroke="#888" stroke-width="7"/>
<path d="M965,98 C975,88 1010,88 1025,95 C1020,108 985,112 965,98 Z" fill="#181818"/>
<rect x="1010" y="222" width="18" height="8" fill="#d03030"/>
</g>
<!-- 6 red bike -->
<g fill="none">
<ellipse cx="1212" cy="200" rx="38" ry="55" stroke="#1a1a1a" stroke-width="8" transform="rotate(12 1212 200)"/>
<ellipse cx="1212" cy="200" rx="30" ry="46" fill="#dce8f0" stroke="none" transform="rotate(12 1212 200)"/>
<ellipse cx="1318" cy="148" rx="30" ry="56" stroke="#1a1a1a" stroke-width="8" transform="rotate(8 1318 148)"/>
<ellipse cx="1318" cy="148" rx="23" ry="47" fill="#dce8f0" stroke="none" transform="rotate(8 1318 148)"/>
<path d="M1212,200 L1228,100 L1300,90 L1318,148 M1228,100 L1270,178 L1300,90 M1212,200 L1270,178 M1300,90 L1292,66 M1222,80 L1230,104" stroke="#d63a22" stroke-width="8"/>
<path d="M1185,70 C1195,62 1205,72 1215,80" stroke="#223" stroke-width="7"/>
<path d="M1262,68 C1275,55 1300,52 1308,58 C1300,72 1280,76 1262,68 Z" fill="#1a2a4a"/>
</g>
</g>
<!-- ROW 2 -->
<g transform="translate(981,52) scale(0.18815)" stroke-linejoin="round" stroke-linecap="round" filter="url(#gb)">
<!-- 1 plane in clouds -->
<g>
<path d="M30,85 C30,60 60,50 80,62 C95,50 125,55 130,75 C150,78 150,100 130,104 L50,106 C30,105 25,95 30,85 Z" fill="#cdd2ea"/>
<path d="M90,215 C95,200 120,198 135,208 C150,198 180,200 190,212 C215,212 218,236 195,240 L110,242 C88,240 84,225 90,215 Z" fill="#d4dcf0"/>
<path d="M28,196 C60,170 140,125 198,100 L182,84 L170,112 C120,130 60,165 26,190 Z" fill="#f4f4f8" stroke="#888" stroke-width="2"/>
<path d="M26,200 C70,180 150,140 205,112" stroke="#d03030" stroke-width="5" fill="none"/>
<path d="M165,112 L178,82 L190,88 L185,108 Z" fill="#3a50b0"/>
<path d="M70,172 C120,160 180,160 225,162 L220,170 C170,172 120,180 85,190 Z" fill="#eceff6" stroke="#aaa" stroke-width="2"/>
</g>
<!-- 2 helicopter over hills -->
<g>
<path d="M350,62 C365,50 395,52 405,65 C430,62 450,72 445,82 L360,84 C345,80 342,70 350,62 Z" fill="#cfe4cc"/>
<path d="M365,215 C375,170 400,130 425,120 C445,135 460,170 462,215 Z" fill="#9a92b8"/>
<path d="M400,160 L425,120 L445,150 L430,175 Z" fill="#c8c4dc"/>
<path d="M250,225 C270,200 320,195 350,210 C380,195 430,205 450,225 C455,250 440,268 400,270 C350,275 290,275 262,262 C248,250 245,236 250,225 Z" fill="#4b9a2a"/>
<path d="M262,245 C300,235 380,235 440,248 C430,265 400,270 350,272 C300,272 270,262 262,245 Z" fill="#2f6e1c"/>
<ellipse cx="300" cy="125" rx="34" ry="36" fill="#cfe4f4" stroke="#7a9ab8" stroke-width="3"/>
<path d="M320,120 C335,110 355,118 360,135 C362,155 345,168 328,165 C318,150 316,135 320,120 Z" fill="#f08a2a"/>
<path d="M270,45 L340,90 M300,50 L285,70 M340,90 L420,140" stroke="#c8a040" stroke-width="5" fill="none"/>
<path d="M258,140 L335,180 M268,160 L330,190" stroke="#5a7a9a" stroke-width="5" fill="none"/>
<path d="M360,140 L440,175 L445,190 L370,160 Z" fill="#8a9ac8"/>
</g>
<!-- 3 white plane -->
<g stroke="#aaa" stroke-width="2">
<path d="M556,125 L572,122 L615,180 L590,184 Z" fill="#f2f2f2"/>
<path d="M590,190 L625,190 L578,262 L565,258 Z" fill="#f2f2f2"/>
<path d="M482,190 C520,180 620,170 660,176 C672,180 672,192 660,196 C620,204 520,210 485,208 Z" fill="#f6f6f6"/>
<path d="M480,165 L505,168 L515,190 L484,192 Z" fill="#d83030" stroke="#a02020"/>
<path d="M640,178 L664,180 L662,190 L645,190 Z" fill="#888" stroke="none"/>
</g>
<!-- 4 rowboat -->
<g>
<path d="M712,100 C740,80 780,90 800,60 C830,40 865,45 860,65 C880,80 905,120 900,160 C910,200 880,230 860,240 C850,270 800,275 760,265 C720,260 705,230 715,200 C700,170 700,130 712,100 Z" fill="#86c4e4"/>
<path d="M720,150 C740,110 800,100 830,70 C860,90 890,130 885,170 C860,200 840,240 800,250 C760,240 730,200 720,150 Z" fill="#a6d6ee"/>
<path d="M708,135 C760,110 850,92 905,98 C908,120 890,150 850,170 C800,195 750,200 725,190 C712,175 706,155 708,135 Z" fill="#a45c2a" stroke="#4a2408" stroke-width="3"/>
<path d="M722,140 C770,118 850,104 895,106 C880,125 840,140 800,150 C765,158 735,158 722,140 Z" fill="#7a3e18" stroke="#4a2408" stroke-width="2"/>
<path d="M760,128 L775,150 M805,116 L822,140 M848,108 L862,128" stroke="#d89a58" stroke-width="6"/>
<path d="M850,165 L885,195" stroke="#5a3010" stroke-width="5"/>
</g>
<!-- 5 red ship -->
<g>
<path d="M928,200 C925,175 960,165 1000,168 C1060,160 1120,165 1140,190 C1145,230 1130,270 1080,282 C1020,292 960,285 940,260 C928,240 926,220 928,200 Z" fill="#5aa8e2"/>
<path d="M945,230 C980,222 1010,240 1040,232 C1070,224 1100,240 1125,232 M960,258 C990,250 1020,266 1050,258 C1075,252 1095,262 1110,258" stroke="#2a70b8" stroke-width="4" fill="none"/>
<path d="M936,125 C980,140 1080,150 1132,130 C1132,160 1120,185 1090,192 C1040,200 985,196 955,180 C942,165 936,145 936,125 Z" fill="#dc3232" stroke="#5a1010" stroke-width="3"/>
<path d="M940,150 C985,168 1080,172 1128,152" stroke="#f4f4f4" stroke-width="7" fill="none"/>
<path d="M985,105 L1075,95 L1100,100 L1100,140 L985,140 Z" fill="#f2f2f2" stroke="#555" stroke-width="2"/>
<path d="M1000,115 L1060,110 L1060,125 L1000,128 Z" fill="#3a4a6a"/>
<rect x="1072" y="92" width="26" height="34" fill="#f6f6f6" stroke="#555" stroke-width="2"/>
<rect x="1072" y="98" width="26" height="10" fill="#d83030"/>
<path d="M1002,75 L1004,120 M1075,70 L1074,96 M1030,90 L1040,118" stroke="#333" stroke-width="4"/>
<rect x="998" y="72" width="8" height="10" fill="#d83030"/>
</g>
<!-- 6 yacht -->
<g>
<path d="M1168,225 C1185,215 1200,232 1220,222 C1240,212 1260,232 1280,222 C1300,212 1320,232 1340,222 C1352,216 1362,220 1368,224 L1368,242 L1168,242 Z" fill="#b4e0f0"/>
<path d="M1165,165 L1368,160 L1368,196 C1330,215 1230,218 1190,210 C1175,195 1168,180 1165,165 Z" fill="#f0f0f0" stroke="#8a8a8a" stroke-width="3"/>
<path d="M1190,205 C1240,215 1330,212 1368,196 L1368,205 C1330,222 1240,225 1195,215 Z" fill="#9aa0a8"/>
<path d="M1210,150 L1225,125 L1300,125 L1310,160 L1200,165 Z" fill="#f4f4f0" stroke="#aaa" stroke-width="2"/>
<path d="M1215,150 L1228,132 L1295,132 L1302,152 Z" fill="#f2e888"/>
<rect x="1322" y="108" width="36" height="58" fill="#f6f6f6" stroke="#999" stroke-width="2"/>
<rect x="1328" y="100" width="24" height="12" fill="#3a50a0"/>
<rect x="1322" y="150" width="36" height="8" fill="#d86060"/>
</g>
</g>
<!-- ROW 3 -->
<g transform="translate(981,106) scale(0.18815)" stroke-linejoin="round" stroke-linecap="round" filter="url(#gb)">
<!-- 1 purple train -->
<g>
<path d="M15,42 C80,36 170,46 228,72 C242,95 242,135 234,170 C180,192 120,222 80,250 L60,275 L18,292 L15,262 C28,236 38,216 50,198 C95,168 150,142 196,126 C204,116 200,108 190,104 C140,94 70,96 15,104 Z" fill="#4a4092" stroke="#1a1640" stroke-width="3"/>
<path d="M22,58 C80,52 160,62 215,86 L212,100 C160,80 80,72 22,78 Z" fill="#7ab6e2"/>
<path d="M62,214 C112,184 172,158 228,142 L230,160 C178,178 118,206 70,234 Z" fill="#7ab6e2"/>
<path d="M40,225 L78,212 L76,258 L42,270 Z" fill="#2a2458"/>
<path d="M48,232 L70,224 L70,240 L48,248 Z" fill="#9ac8ea"/>
<path d="M14,272 L62,262 L62,296 L14,298 Z" fill="#b84a2a"/>
</g>
<!-- 2 white train -->
<g>
<path d="M280,235 C285,215 300,205 320,195 L440,112 L462,118 L462,170 L330,280 L282,270 Z" fill="#f0eeee" stroke="#9a9a9a" stroke-width="3"/>
<path d="M288,240 L330,250 L455,150" stroke="#d84a3a" stroke-width="5" fill="none"/>
<path d="M300,215 L325,222 L335,205 L318,198 Z" fill="#aab"/>
<path d="M395,140 L420,150 L415,200 L400,195 Z" fill="#666"/>
<path d="M282,262 L330,275 L330,285 L282,272 Z" fill="#c8c8c8"/>
</g>
<!-- 3 tram -->
<g stroke="#777" stroke-width="2">
<path d="M480,75 L545,42 L585,70 L590,100 L520,120 L482,100 Z" fill="#f4ea6a"/>
<path d="M490,84 L560,58 L580,82 L515,104 Z" fill="#f8f6ee"/>
<path d="M495,95 L575,70" stroke="#d84a3a" stroke-width="4"/>
<path d="M476,130 L540,135 L660,185 L690,215 L690,278 L640,270 L520,220 L476,190 Z" fill="#f4ea6a"/>
<path d="M480,150 L540,160 L655,205 L688,235 L688,250 L650,232 L530,190 L480,172 Z" fill="#f8f6ee"/>
<path d="M480,165 L535,178 L650,222 L688,244" stroke="#d84a3a" stroke-width="4" fill="none"/>
<path d="M528,140 L545,145 L540,215 L522,208 Z" fill="#444"/>
<path d="M480,128 L530,115 L560,135" stroke="#555" stroke-width="4" fill="none"/>
</g>
<!-- 4 scooter -->
<g stroke="#0c1a50" stroke-width="3">
<ellipse cx="740" cy="215" rx="26" ry="32" fill="#5a5a5a"/><ellipse cx="740" cy="215" rx="14" ry="18" fill="#e8dc28"/>
<ellipse cx="872" cy="248" rx="32" ry="40" fill="#5a5a5a"/><ellipse cx="872" cy="248" rx="18" ry="24" fill="#e8dc28"/><ellipse cx="872" cy="248" rx="8" ry="11" fill="#bbb" stroke="none"/>
<path d="M820,82 C840,70 865,78 868,100 C872,130 870,160 880,185 C895,200 890,215 870,212 C850,205 838,215 830,235 C800,245 760,240 735,225 C720,205 722,180 735,165 C760,160 800,165 822,175 C832,150 820,115 820,82 Z" fill="#2a52ca"/>
<path d="M735,165 C740,145 760,138 790,140 C810,142 822,158 822,175 C800,165 760,160 735,165 Z" fill="#6a9ae8"/>
<path d="M852,110 C870,120 885,150 888,175 L865,170 C860,150 855,130 852,110 Z" fill="#f0842a" stroke-width="2"/>
<path d="M755,128 C775,115 805,118 815,132 L810,145 L760,142 Z" fill="#8a8a8a"/>
<path d="M770,70 L800,85 L830,80 M860,75 L895,60" stroke="#555" stroke-width="6" fill="none"/>
<circle cx="775" cy="68" r="9" fill="#999"/><circle cx="885" cy="58" r="7" fill="#999"/>
<path d="M725,120 L745,118 L748,135 L728,138 Z" fill="#e8dc28" stroke-width="2"/>
</g>
<!-- 5 red motorcycle -->
<g stroke="#3a0808" stroke-width="3">
<ellipse cx="965" cy="180" rx="32" ry="34" fill="#3a3a3a"/><ellipse cx="965" cy="180" rx="18" ry="20" fill="#b8b8c0"/>
<ellipse cx="1100" cy="182" rx="30" ry="32" fill="#3a3a3a"/><ellipse cx="1100" cy="182" rx="16" ry="18" fill="#b8b8c0"/>
<path d="M945,150 C955,120 985,108 1010,112 C1030,118 1045,135 1060,140 C1085,130 1110,118 1128,122 C1125,145 1105,160 1085,165 C1075,185 1050,200 1020,198 C1000,195 990,180 985,160 C970,150 955,150 945,150 Z" fill="#da2222"/>
<path d="M1045,135 C1060,118 1085,110 1100,114 C1095,130 1075,142 1058,145 Z" fill="#6a2a1a"/>
<path d="M975,112 C985,95 1005,92 1015,100 L1010,115 Z" fill="#c8dcec" stroke-width="2"/>
<path d="M1020,150 L1035,168 L1020,185" stroke="#f0c040" stroke-width="6" fill="none"/>
<path d="M1070,188 L1130,205" stroke="#999" stroke-width="5"/>
</g>
<!-- 6 red bus -->
<g stroke="#4a0a0a" stroke-width="3" transform="translate(680,8)">
<path d="M482,140 L640,68 C665,62 678,75 680,95 L682,165 C680,180 670,185 660,190 L580,222 L490,210 C480,200 478,170 482,140 Z" fill="#e42a2a"/>
<path d="M490,142 L545,128 L545,170 L488,176 Z" fill="#d6ecf6"/>
<path d="M556,124 L660,82 L664,122 L558,165 Z" fill="#d6ecf6"/>
<path d="M592,110 L592,152 M628,95 L628,138" stroke="#e42a2a" stroke-width="6"/>
<path d="M556,176 L676,132" stroke="#7080c0" stroke-width="5" fill="none"/>
<ellipse cx="580" cy="212" rx="14" ry="16" fill="#222"/><ellipse cx="655" cy="180" rx="11" ry="14" fill="#222"/>
</g>
</g>
<!-- grid lines -->
<g stroke="#f2c53c" stroke-width="1.6" fill="none">
<rect x="983.8" y="1.8" width="255" height="160.2"/>
<path d="M1026.3,1 V162 M1069.1,1 V162 M1112,1 V162 M1154.8,1 V162 M1197.2,1 V162 M983,55.2 H1239.5 M983,109 H1239.5"/>
</g>
</g>

<g id="icons">
<rect x="616.7" y="73.5" width="16.6" height="17" rx="3.5" fill="#f4f8ff" stroke="#5a8ad0" stroke-width="1.2"/>
<rect x="633.9" y="73.5" width="16.6" height="17" rx="3.5" fill="#f8fbff" stroke="#5a8ad0" stroke-width="1.2"/>
<!-- doc icon -->
<rect x="619.6" y="75.6" width="11" height="12.8" fill="#fffcb4" stroke="#14143c" stroke-width="1.1"/>
<rect x="624.8" y="76.2" width="5.3" height="6" fill="#a8c8f0"/>
<path d="M624.8,82.2 L627,79 L628.4,80.6 L630.1,78.4 L630.1,82.2 Z" fill="#3a7a3a"/>
<path d="M628,76.2 L630.1,76.2 L630.1,78 Z" fill="#f0a040"/>
<path d="M621,78.3 H623.2 M621,80.4 H623.2 M621,82.5 H623.2 M621,84.4 H629 M621,86.4 H629" stroke="#4a3a14" stroke-width="0.9" fill="none"/>
<!-- tree icon -->
<g stroke="#0a0a28" stroke-width="0.9" fill="none">
<path d="M642.2,77.6 V85 M639.2,79.6 H645.6 M638.2,81 L640,79 M646.6,81 L645,79 M637.6,83 V86 M646.9,83 V86"/>
</g>
<rect x="639.4" y="75.3" width="5.6" height="2.4" fill="#7aa8f0" stroke="#0a0a50" stroke-width="0.8"/>
<rect x="636.2" y="80.2" width="3.2" height="3.2" fill="#2a3ab0" stroke="#0a0a50" stroke-width="0.7"/>
<rect x="644.6" y="80.2" width="3.2" height="3" fill="#c8d4a0" stroke="#0a0a28" stroke-width="0.7"/>
<rect x="636.4" y="85.4" width="2.6" height="2.6" fill="#f4f4f4" stroke="#0a0a28" stroke-width="0.7"/>
<rect x="640.6" y="84.4" width="3.2" height="2.6" fill="#e08090" stroke="#0a0a28" stroke-width="0.7"/>
<rect x="645.5" y="85.4" width="2.6" height="2.6" fill="#2a3ab0" stroke="#0a0a28" stroke-width="0.7"/>
</g>

<g opacity="0.999">
<text x="460.90" y="63.4" font-size="33.8" fill="#000" textLength="109.86" lengthAdjust="spacingAndGlyphs">Medios</text>
<text x="582.90" y="63.4" font-size="33.8" fill="#000" textLength="39.25" lengthAdjust="spacingAndGlyphs">de</text>
<text x="632.31" y="63.4" font-size="33.8" fill="#000" textLength="176.11" lengthAdjust="spacingAndGlyphs">Transporte</text>
<text x="290.79" y="221.6" font-size="31.8" fill="#000" textLength="91.94" lengthAdjust="spacingAndGlyphs">Áereo</text>
<text x="565.36" y="231.1" font-size="31.8" fill="#000" textLength="148.29" lengthAdjust="spacingAndGlyphs">Terrestre</text>
<text x="1006.60" y="236.1" font-size="31.8" fill="#000" textLength="141.91" lengthAdjust="spacingAndGlyphs">Marítimo</text>
<text x="116.44" y="272.35" font-size="25.4" fill="#000" textLength="66.85" lengthAdjust="spacingAndGlyphs">Avión</text>
<text x="107.32" y="350.1" font-size="25.4" fill="#000" textLength="137.15" lengthAdjust="spacingAndGlyphs">Helicóptero</text>
<text x="329.04" y="346.1" font-size="25.4" fill="#000" textLength="69.80" lengthAdjust="spacingAndGlyphs">Globo</text>
<text x="494.37" y="365.1" font-size="25.4" fill="#000" textLength="74.49" lengthAdjust="spacingAndGlyphs">Coche</text>
<text x="622.47" y="371.85" font-size="25.4" fill="#000" textLength="59.34" lengthAdjust="spacingAndGlyphs">Moto</text>
<text x="742.56" y="353.1" font-size="25.4" fill="#000" textLength="98.53" lengthAdjust="spacingAndGlyphs">Bicicleta</text>
<text x="934.66" y="376.35" font-size="25.4" fill="#000" textLength="67.28" lengthAdjust="spacingAndGlyphs">Barca</text>
<text x="1065.99" y="375.6" font-size="25.4" fill="#000" textLength="75.98" lengthAdjust="spacingAndGlyphs">Canoa</text>
<text x="1200.85" y="378.1" font-size="25.4" fill="#000" textLength="76.54" lengthAdjust="spacingAndGlyphs">Velero</text>
<text x="153.54" y="26.5" font-size="14.8" fill="#0a0acc" textLength="36.98" lengthAdjust="spacingAndGlyphs">Mapa</text>
<text x="195.56" y="26.5" font-size="14.8" fill="#0a0acc" textLength="76.37" lengthAdjust="spacingAndGlyphs">conceptual</text>
<text x="276.51" y="26.5" font-size="14.8" fill="#0a0acc" textLength="63.16" lengthAdjust="spacingAndGlyphs">realizado</text>
<text x="344.60" y="26.5" font-size="14.8" fill="#0a0acc" textLength="23.69" lengthAdjust="spacingAndGlyphs">por</text>
<text x="197.81" y="43.7" font-size="14.8" fill="#0a0acc" textLength="50.82" lengthAdjust="spacingAndGlyphs">Alfonso</text>
<text x="254.25" y="43.7" font-size="14.8" fill="#0a0acc" textLength="17.91" lengthAdjust="spacingAndGlyphs">de</text>
<text x="275.77" y="43.7" font-size="14.8" fill="#0a0acc" textLength="48.70" lengthAdjust="spacingAndGlyphs">Arquer</text>
<text x="385.39" y="123" font-size="12.7" fill="#000" textLength="14.28" lengthAdjust="spacingAndGlyphs">se</text>
<text x="403.04" y="123" font-size="12.7" fill="#000" textLength="60.59" lengthAdjust="spacingAndGlyphs">desplazan</text>
<text x="467.70" y="123" font-size="12.7" fill="#000" textLength="20.90" lengthAdjust="spacingAndGlyphs">por</text>
<text x="491.64" y="123" font-size="12.7" fill="#000" textLength="10.46" lengthAdjust="spacingAndGlyphs">el</text>
<text x="505.89" y="123" font-size="12.7" fill="#000" textLength="23.87" lengthAdjust="spacingAndGlyphs">aire</text>
<text x="563.68" y="150" font-size="12.7" fill="#000" textLength="13.95" lengthAdjust="spacingAndGlyphs">se</text>
<text x="581.78" y="150" font-size="12.7" fill="#000" textLength="59.52" lengthAdjust="spacingAndGlyphs">desplazan</text>
<text x="645.57" y="150" font-size="12.7" fill="#000" textLength="21.68" lengthAdjust="spacingAndGlyphs">por</text>
<text x="670.34" y="150" font-size="12.7" fill="#000" textLength="9.32" lengthAdjust="spacingAndGlyphs">la</text>
<text x="684.54" y="150" font-size="12.7" fill="#000" textLength="32.24" lengthAdjust="spacingAndGlyphs">tierra</text>
<text x="706.76" y="124" font-size="12.7" fill="#000" textLength="13.99" lengthAdjust="spacingAndGlyphs">se</text>
<text x="724.19" y="124" font-size="12.7" fill="#000" textLength="59.77" lengthAdjust="spacingAndGlyphs">desplazan</text>
<text x="788.76" y="124" font-size="12.7" fill="#000" textLength="19.54" lengthAdjust="spacingAndGlyphs">por</text>
<text x="812.48" y="124" font-size="12.7" fill="#000" textLength="10.26" lengthAdjust="spacingAndGlyphs">el</text>
<text x="827.30" y="124" font-size="12.7" fill="#000" textLength="23.12" lengthAdjust="spacingAndGlyphs">mar</text>
<text x="854.79" y="124" font-size="12.7" fill="#000" textLength="7.93" lengthAdjust="spacingAndGlyphs">o</text>
<text x="867.11" y="124" font-size="12.7" fill="#000" textLength="19.68" lengthAdjust="spacingAndGlyphs">por</text>
<text x="890.88" y="124" font-size="12.7" fill="#000" textLength="10.14" lengthAdjust="spacingAndGlyphs">el</text>
<text x="905.43" y="124" font-size="12.7" fill="#000" textLength="30.22" lengthAdjust="spacingAndGlyphs">agua</text>
<text x="78.73" y="217.4" font-size="12.7" fill="#000" textLength="44.71" lengthAdjust="spacingAndGlyphs">imagen</text>
<text x="238.51" y="269.4" font-size="12.7" fill="#000" textLength="54.58" lengthAdjust="spacingAndGlyphs">ejemplos</text>
<text x="150.73" y="414.9" font-size="12.7" fill="#000" textLength="44.71" lengthAdjust="spacingAndGlyphs">imagen</text>
<text x="347.35" y="404.9" font-size="12.7" fill="#000" textLength="44.77" lengthAdjust="spacingAndGlyphs">imagen</text>
<text x="620.48" y="307.4" font-size="12.7" fill="#000" textLength="55.44" lengthAdjust="spacingAndGlyphs">ejemplos</text>
<text x="510.71" y="443.15" font-size="12.7" fill="#000" textLength="44.44" lengthAdjust="spacingAndGlyphs">imagen</text>
<text x="631.35" y="445.65" font-size="12.7" fill="#000" textLength="44.77" lengthAdjust="spacingAndGlyphs">imagen</text>
<text x="775.65" y="431.9" font-size="12.7" fill="#000" textLength="44.81" lengthAdjust="spacingAndGlyphs">imagen</text>
<text x="1050.41" y="307.4" font-size="12.7" fill="#000" textLength="55.87" lengthAdjust="spacingAndGlyphs">ejemplos</text>
<text x="954.73" y="445.15" font-size="12.7" fill="#000" textLength="44.71" lengthAdjust="spacingAndGlyphs">imagen</text>
<text x="1090.65" y="445.9" font-size="12.7" fill="#000" textLength="44.81" lengthAdjust="spacingAndGlyphs">imagen</text>
<text x="1247.02" y="423.0" font-size="12.7" fill="#000" textLength="45.01" lengthAdjust="spacingAndGlyphs">imagen</text>
</g>
</svg></body></html>
